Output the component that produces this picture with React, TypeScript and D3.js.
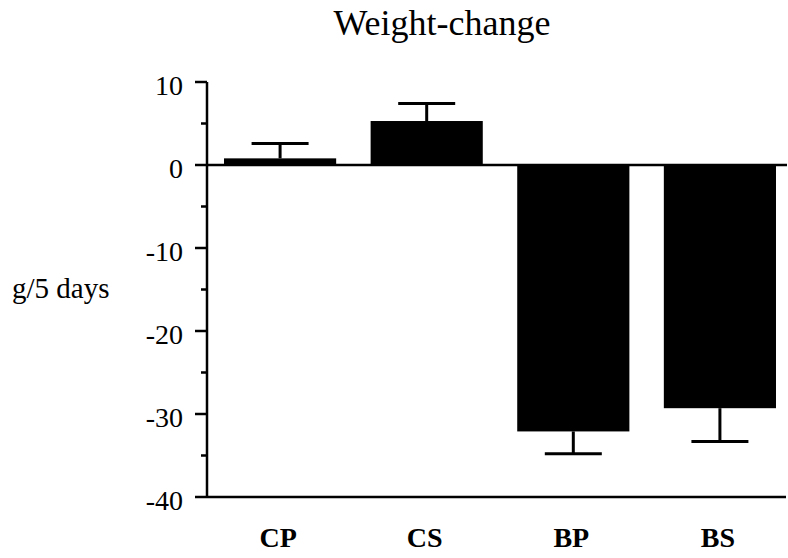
import React from "react";
import * as d3 from "d3";

// values (g / 5 days)
const groups = ["CP", "CS", "BP", "BS"];
const means = [0.8, 5.3, -32.1, -29.3];
const errorEnds = [2.6, 7.4, -34.8, -33.3];
const majorTicks = [10, 0, -10, -20, -30, -40];
const minorTicks = [5, -5, -15, -25, -35];

const W = 788;
const H = 558;
const FONT = "'Liberation Serif', 'Times New Roman', serif";

const App = () => {
  const y = d3.scaleLinear().domain([-40, 10]).range([497, 82]);
  const x = d3
    .scaleBand()
    .domain(groups)
    .range([207, 793])
    .paddingInner(0.235)
    .paddingOuter(0.116);

  const axisX = 207;
  const capW = 57;

  return (
    <svg
      width={W}
      height={H}
      style={{ position: "absolute", left: 0, top: 0, background: "#fff" }}
      fontFamily={FONT}
    >
      <text x={442} y={35} textAnchor="middle" fontSize={36}>
        Weight-change
      </text>

      {/* y label */}
      <text x={12} y={298} fontSize={29}>
        g/5 days
      </text>

      {/* bars */}
      {groups.map((g, i) => {
        const v = means[i];
        const top = y(Math.max(0, v));
        const h = Math.abs(y(v) - y(0));
        return (
          <rect
            key={g}
            x={x(g)}
            y={top}
            width={x.bandwidth()}
            height={h}
            fill="#000"
          />
        );
      })}

      {/* error bars */}
      {groups.map((g, i) => {
        const cx = (x(g) as number) + x.bandwidth() / 2;
        return (
          <g key={g} stroke="#000" strokeWidth={3}>
            <line x1={cx} x2={cx} y1={y(means[i])} y2={y(errorEnds[i])} />
            <line
              x1={cx - capW / 2}
              x2={cx + capW / 2}
              y1={y(errorEnds[i])}
              y2={y(errorEnds[i])}
            />
          </g>
        );
      })}

      {/* zero line */}
      <line x1={axisX} x2={787} y1={y(0)} y2={y(0)} stroke="#000" strokeWidth={2.5} />
      {/* bottom line */}
      <line x1={axisX} x2={786} y1={y(-40)} y2={y(-40)} stroke="#000" strokeWidth={2.5} />

      {/* y axis */}
      <line x1={axisX} x2={axisX} y1={y(10)} y2={y(-40)} stroke="#000" strokeWidth={2.5} />
      {majorTicks.map((t) => (
        <g key={t}>
          <line x1={axisX - 12} x2={axisX} y1={y(t)} y2={y(t)} stroke="#000" strokeWidth={2.5} />
          <text x={183} y={y(t) + 13} textAnchor="end" fontSize={28}>
            {t}
          </text>
        </g>
      ))}
      {minorTicks.map((t) => (
        <line key={t} x1={axisX - 6} x2={axisX} y1={y(t)} y2={y(t)} stroke="#000" strokeWidth={2.5} />
      ))}

      {/* category labels */}
      {groups.map((g) => (
        <text
          key={g}
          x={(x(g) as number) + x.bandwidth() / 2 - 2}
          y={547}
          textAnchor="middle"
          fontSize={28}
          fontWeight="bold"
        >
          {g}
        </text>
      ))}
    </svg>
  );
};

export default App;
